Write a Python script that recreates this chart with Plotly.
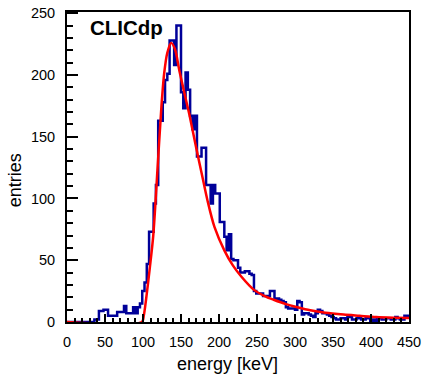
import numpy as np
import plotly.graph_objects as go

# Histogram: 150 bins of 3 keV from 0 to 450 keV
E_MIN, E_MAX, BIN_W = 0.0, 450.0, 3.0
counts = [
    0, 0, 0, 0, 0, 0, 0, 0, 0, 0, 0, 0,          # 0-36
    2, 2, 9, 9, 10, 10, 5, 5, 5, 5,              # 36-66
    8, 8, 8, 13, 7, 7, 7, 12, 7, 12,             # 66-96
    15, 25, 32, 47, 73, 73, 96, 111, 163, 163,   # 96-126
    178, 196, 201, 228, 228, 208, 240, 240, 186, 173,  # 126-156
    202, 188, 167, 156, 167, 134, 134, 141, 141, 111,  # 156-186
    111, 96, 111, 104, 104, 81, 81, 69, 58, 71,  # 186-216
    51, 50, 50, 44, 40, 40, 41, 41, 39, 38,      # 216-246
    25, 23, 23, 23, 21, 21, 21, 25, 25, 18,      # 246-276
    19, 18, 17, 16, 12, 11, 11, 11, 10, 17,      # 276-306
    16, 6, 7, 7, 6, 5, 4, 7, 10, 9,              # 306-336
    7, 7, 6, 5, 4, 3,                            # 336-354
    2, 2, 3, 3, 2, 4, 4, 2, 2, 3, 3, 2, 2, 3, 3, 1,   # 354-402
    2, 1, 3, 3, 2, 2, 3, 3, 2, 2, 4, 3, 2, 2, 5, 5,   # 402-450
]

# Fit curve (red)
fit_e = [0, 98.5, 101, 104, 109, 113.5, 119, 124.3, 128, 132, 137, 142, 148,
         155, 161, 170, 178, 185, 194, 207, 218, 229, 246, 260, 272, 288, 303,
         320, 340, 364, 385, 407, 430, 450]
fit_v = [0, 0, 5, 18, 44, 70, 123, 175, 202, 218, 226, 221, 203,
         184, 168, 141, 118, 98, 77, 58, 46, 37, 26, 21, 18, 14.5, 12,
         9.5, 7.5, 6, 5, 4, 3.5, 3.2]

x_ticks = [0, 50, 100, 150, 200, 250, 300, 350, 400, 450]
y_ticks = [0, 50, 100, 150, 200, 250]

edges = np.arange(E_MIN, E_MAX + BIN_W / 2, BIN_W)
step_y = list(counts) + [counts[-1]]

FONT = "Liberation Sans, Arial, Helvetica, sans-serif"

fig = go.Figure()
fig.add_trace(go.Scatter(
    x=edges, y=step_y, mode="lines", line=dict(shape="hv", color="#000099", width=2.5),
    hoverinfo="skip", showlegend=False))
fig.add_trace(go.Scatter(
    x=fit_e, y=fit_v, mode="lines", line=dict(shape="spline", smoothing=0.8, color="#ff0000", width=2.5),
    hoverinfo="skip", showlegend=False))

fig.update_layout(
    width=426, height=376, autosize=False,
    margin=dict(l=67, r=13, t=5, b=54, pad=0),
    paper_bgcolor="white", plot_bgcolor="white",
    font=dict(family=FONT, color="black"),
    showlegend=False,
)
fig.update_xaxes(
    range=[0, 450], tickvals=x_ticks, ticktext=[str(v) for v in x_ticks],
    showgrid=False, zeroline=False,
    showline=True, linecolor="black", linewidth=2, mirror=True,
    ticks="inside", ticklen=8, tickwidth=1.5, tickcolor="black",
    minor=dict(dtick=10, ticks="inside", ticklen=4, tickwidth=1.5, tickcolor="black", showgrid=False),
    tickfont=dict(size=14.5, family=FONT, color="black"),
    ticklabelstandoff=6,
)
fig.update_yaxes(
    range=[0, 251], tickvals=y_ticks, ticktext=[str(v) for v in y_ticks],
    showgrid=False, zeroline=False,
    showline=True, linecolor="black", linewidth=2, mirror=True,
    ticks="inside", ticklen=11, tickwidth=1.5, tickcolor="black",
    minor=dict(dtick=10, ticks="inside", ticklen=5.5, tickwidth=1.5, tickcolor="black", showgrid=False),
    tickfont=dict(size=14.5, family=FONT, color="black"),
    ticklabelstandoff=7,
)

fig.add_annotation(text="energy [keV]", xref="paper", yref="paper", x=0.468, y=0,
                   xanchor="center", yanchor="middle", yshift=-42, showarrow=False,
                   font=dict(size=18, family=FONT, color="black"))
fig.add_annotation(text="entries", xref="paper", yref="paper", x=0, y=0.457,
                   xanchor="center", yanchor="middle", xshift=-52, textangle=-90, showarrow=False,
                   font=dict(size=18, family=FONT, color="black"))
fig.add_annotation(text="<b>CLICdp</b>", xref="paper", yref="paper", x=0.06, y=1,
                   xanchor="left", yanchor="top", yshift=-2, showarrow=False,
                   font=dict(size=20.5, family=FONT, color="black"))

fig.write_html("out.html", config={"displayModeBar": False},
               post_script="document.body.style.margin='0px';document.body.style.padding='0px';")
